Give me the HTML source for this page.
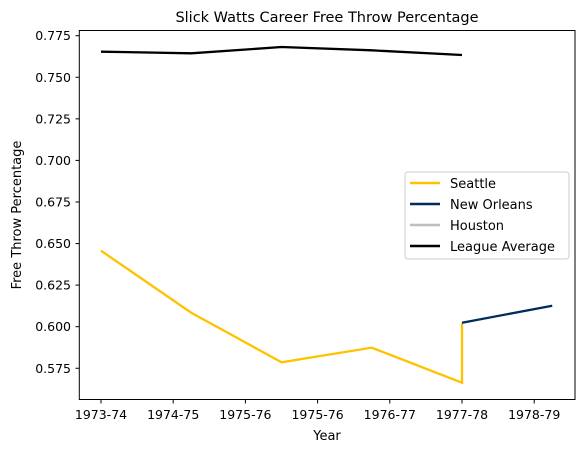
<!DOCTYPE html>
<html><head><meta charset="utf-8"><style>
body{margin:0;background:#fff}
svg{font-family:"DejaVu Sans","Liberation Sans",sans-serif}
</style></head><body>
<svg id="chart" width="588" height="453" viewBox="0 0 588 453" xmlns="http://www.w3.org/2000/svg">
<rect width="588" height="453" fill="#fff"/>
<text x="327" y="22" text-anchor="middle" font-size="14.5" fill="#000">Slick Watts Career Free Throw Percentage</text>
<text x="327" y="440" text-anchor="middle" font-size="13">Year</text>
<text transform="translate(21,215) rotate(-90)" text-anchor="middle" font-size="13">Free Throw Percentage</text>
<g id="ticks"></g>
<g id="series"></g>
<rect x="79.3" y="30.5" width="495.7" height="369" fill="none" stroke="#000" stroke-width="1"/>
<g>
<rect x="405" y="172" width="164" height="87" rx="3" fill="#fff" fill-opacity="0.8" stroke="#ccc"/>
<line x1="410" y1="183" x2="440" y2="183" stroke="#FFC200" stroke-width="2.5"/>
<text x="450" y="188" font-size="13">Seattle</text>
<line x1="410" y1="204" x2="440" y2="204" stroke="#002B5C" stroke-width="2.5"/>
<text x="450" y="209" font-size="13">New Orleans</text>
<line x1="410" y1="225" x2="440" y2="225" stroke="#BEBEBE" stroke-width="2.5"/>
<text x="450" y="230" font-size="13">Houston</text>
<line x1="410" y1="246" x2="440" y2="246" stroke="#000" stroke-width="2.5"/>
<text x="450" y="251" font-size="13">League Average</text>
</g>
</svg>
<script>
const xTickLabels = ["1973-74","1974-75","1975-76","1975-76","1976-77","1977-78","1978-79"];
const yTicks = [0.575,0.600,0.625,0.650,0.675,0.700,0.725,0.750,0.775];
const seattleX = [0,1.25,2.5,3.75,5,5];
const seattleY = [0.6457,0.6084,0.5786,0.5874,0.5663,0.602];
const newOrleansX = [5,6.25];
const newOrleansY = [0.6024,0.6126];
const leagueX = [0,1.25,2.5,3.75,5];
const leagueY = [0.7654,0.7644,0.7682,0.7662,0.7634];

const NS="http://www.w3.org/2000/svg";
function xs(v){return 101+v*72.2;}
function ys(v){return 35.7+(0.775-v)*1662.8;}
const tg=document.getElementById('ticks');
xTickLabels.forEach((l,i)=>{
  const x=xs(i);
  const t=document.createElementNS(NS,'line');
  t.setAttribute('x1',x);t.setAttribute('x2',x);t.setAttribute('y1',399.5);t.setAttribute('y2',403.5);t.setAttribute('stroke','#000');
  
  
  tg.appendChild(t);
  const s=document.createElementNS(NS,'text');
  s.setAttribute('x',x);s.setAttribute('y',419);s.setAttribute('text-anchor','middle');s.setAttribute('font-size','12.5');
  s.textContent=l;
  
  
  tg.appendChild(s);
});
yTicks.forEach(v=>{
  const y=ys(v);
  const t=document.createElementNS(NS,'line');
  t.setAttribute('x1',75.5);t.setAttribute('x2',79.3);t.setAttribute('y1',y);t.setAttribute('y2',y);t.setAttribute('stroke','#000');
  
  
  tg.appendChild(t);
  const s=document.createElementNS(NS,'text');
  s.setAttribute('x',71);s.setAttribute('y',y+4.5);s.setAttribute('text-anchor','end');s.setAttribute('font-size','12.5');
  s.textContent=v.toFixed(3);
  
  
  tg.appendChild(s);
});
const sg=document.getElementById('series');
function line(X,Y,color,name){
  const p=document.createElementNS(NS,'polyline');
  p.setAttribute('points',X.map((x,i)=>xs(x)+','+ys(Y[i])).join(' '));
  p.setAttribute('fill','none');p.setAttribute('stroke',color);p.setAttribute('stroke-width','2.3');
  
  
  sg.appendChild(p);
}
line(seattleX,seattleY,'#FFC200','seattle-line');
line(newOrleansX,newOrleansY,'#002B5C','new-orleans-line');
line(leagueX,leagueY,'#000','league-average-line');
</script>
</body></html>
